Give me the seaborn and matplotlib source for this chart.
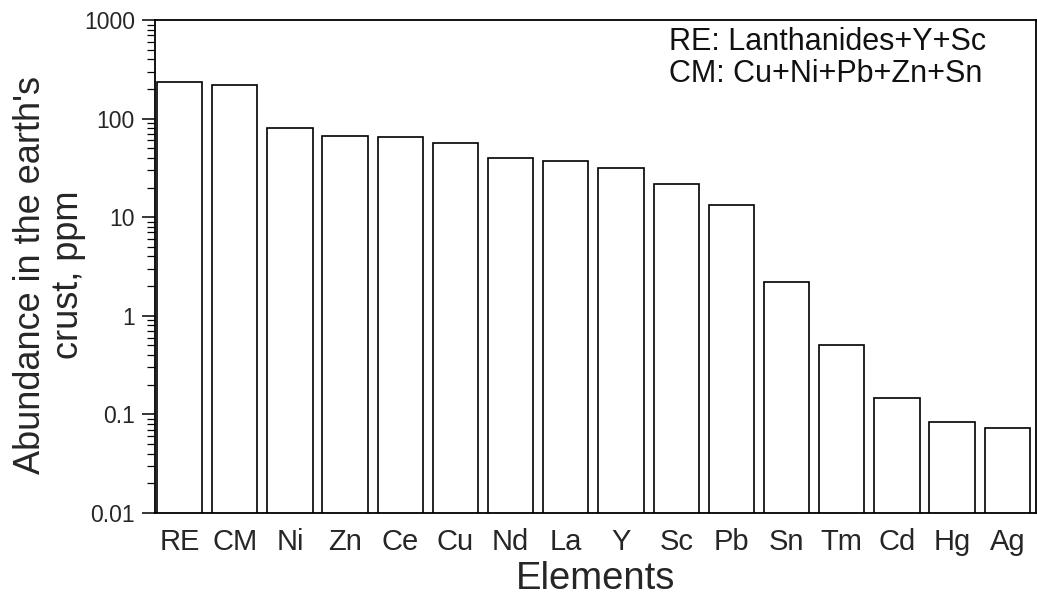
import numpy as np
import pandas as pd
import seaborn as sns
import matplotlib
matplotlib.use("Agg")
import matplotlib.pyplot as plt
from matplotlib.ticker import FixedLocator, LogLocator, NullFormatter

# abundance in the earth's crust, ppm
elements = ["RE", "CM", "Ni", "Zn", "Ce", "Cu", "Nd", "La", "Y", "Sc",
            "Pb", "Sn", "Tm", "Cd", "Hg", "Ag"]
abundance = [233, 219, 81, 67, 65, 57, 39.6, 37.4, 31.3, 21.6,
             13.4, 2.2, 0.5, 0.148, 0.083, 0.073]
ytick_vals = [0.01, 0.1, 1, 10, 100, 1000]
ytick_labels = ["0.01", "0.1", "1", "10", "100", "1000"]
note_lines = ["RE: Lanthanides+Y+Sc", "CM: Cu+Ni+Pb+Zn+Sn"]

df = pd.DataFrame({"element": elements, "ppm": abundance})

sns.set_theme(style="white")
plt.rcParams["font.family"] = ["Liberation Sans", "DejaVu Sans"]
plt.rcParams["text.color"] = "#111111"

fig = plt.figure(figsize=(10.37, 5.97), dpi=100)
ax = fig.add_axes([155 / 1037, 84 / 597, 881 / 1037, 493 / 597])

sns.barplot(data=df, x="element", y="ppm", color="white", edgecolor="black",
            linewidth=1.2, width=0.82, saturation=1, ax=ax)

ax.set_yscale("log")
ax.set_ylim(0.01, 1000)
ax.set_xlim(-0.445, 15.52)

ax.yaxis.set_major_locator(FixedLocator(ytick_vals))
ax.set_yticklabels(ytick_labels)
ax.yaxis.set_minor_locator(LogLocator(base=10, subs=np.arange(2, 10)))
ax.yaxis.set_minor_formatter(NullFormatter())
ax.tick_params(axis="y", which="major", direction="out", length=9.5, width=1.1,
               color="black", labelsize=16.5, pad=5, left=True)
ax.tick_params(axis="y", which="minor", direction="out", length=5.5, width=0.9,
               color="black", left=True)
ax.tick_params(axis="x", length=0, labelsize=21, pad=10.5)

for s in ax.spines.values():
    s.set_color("black")
    s.set_linewidth(1.3)

ax.set_xlabel("Elements", fontsize=27.5, labelpad=4)
ax.set_ylabel("Abundance in the earth's\ncrust, ppm", fontsize=26,
              linespacing=1.12, multialignment="center")
ax.yaxis.set_label_coords(-0.078, 0.483)

# note in the upper right corner
ax.text(0.5834, 0.9864, "\n".join(note_lines), transform=ax.transAxes,
        ha="left", va="top", fontsize=22, linespacing=1.1)

fig.savefig("out.png", dpi=100, facecolor="white")
